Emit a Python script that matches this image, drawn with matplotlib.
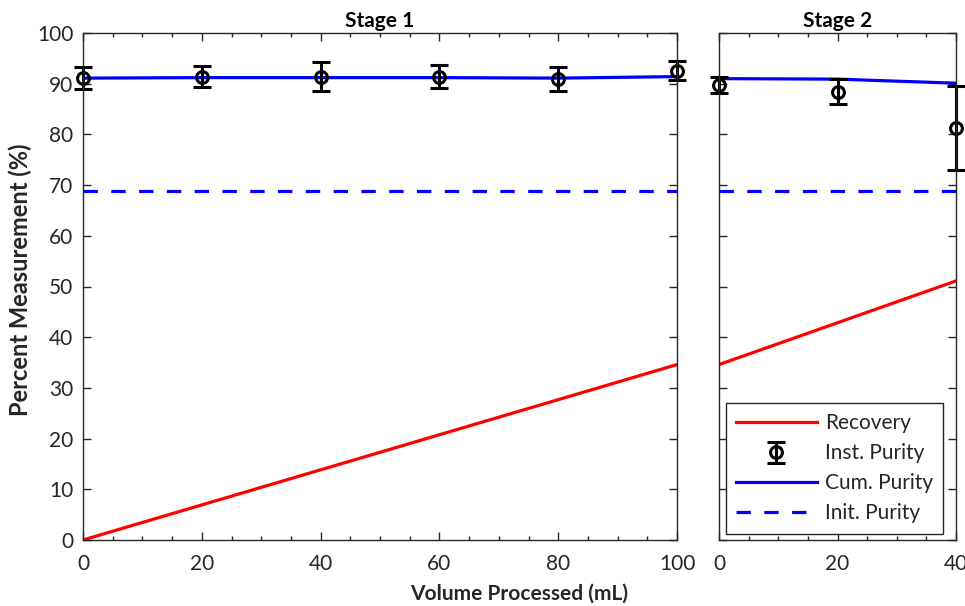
import matplotlib
matplotlib.use("Agg")
import matplotlib.pyplot as plt
from matplotlib.ticker import MultipleLocator

plt.rcParams['font.family'] = ['Lato', 'DejaVu Sans']

# Stage 1 measurements
s1_vol = [0, 20, 40, 60, 80, 100]
s1_inst = [91.1, 91.4, 91.4, 91.4, 90.9, 92.6]
s1_inst_err = [2.1, 2.0, 2.8, 2.3, 2.3, 1.9]
s1_cum = [91.1, 91.2, 91.2, 91.2, 91.1, 91.4]
s1_rec_vol = [0, 100]
s1_rec = [0.0, 34.6]

# Stage 2 measurements
s2_vol = [0, 20, 40]
s2_inst = [89.7, 88.4, 81.2]
s2_inst_err = [1.6, 2.5, 8.3]
s2_cum = [91.0, 90.9, 90.1]
s2_rec_vol = [0, 40]
s2_rec = [34.6, 51.1]

init_purity = 68.9

AX_COL = '#262626'
FS_TICK = 15

fig = plt.figure(figsize=(9.65, 6.06), dpi=100)
ax1 = fig.add_axes([83/965, 1-540/606, (677-83)/965, (540-33)/606])
ax2 = fig.add_axes([719/965, 1-540/606, (956-719)/965, (540-33)/606])


def draw_stage(ax, vol, inst, err, cum, rvol, rec, xmax):
    h_rec, = ax.plot(rvol, rec, color='red', lw=2.3, label='Recovery')
    h_cum, = ax.plot(vol, cum, color='blue', lw=2.3, label='Cum. Purity')
    h_init, = ax.plot([0, xmax], [init_purity, init_purity], color='blue', lw=2.3,
                      linestyle=(0, (4.5, 4.2)), label='Init. Purity')
    h_inst = ax.errorbar(vol, inst, yerr=err, fmt='o', color='black', mfc='none',
                         ms=8.5, mew=2.2, elinewidth=2.2, capsize=6.5, capthick=2.2,
                         label='Inst. Purity')
    # markers and error bars at the axis edge are not clipped
    for art in h_inst.lines[0:1] + tuple(h_inst.lines[1]) + tuple(h_inst.lines[2]):
        art.set_clip_on(False)
    ax.set_xlim(0, xmax)
    ax.set_ylim(0, 100)
    ax.xaxis.set_major_locator(MultipleLocator(20))
    ax.xaxis.set_minor_locator(MultipleLocator(5))
    ax.yaxis.set_major_locator(MultipleLocator(10))
    ax.tick_params(which='both', direction='in', top=True, right=True,
                   color=AX_COL, labelcolor=AX_COL, labelsize=FS_TICK, width=1)
    ax.tick_params(which='major', length=6)
    ax.tick_params(axis='x', which='major', pad=10)
    ax.tick_params(axis='y', which='major', pad=7)
    ax.tick_params(which='minor', length=3)
    for sp in ax.spines.values():
        sp.set_color(AX_COL)
        sp.set_linewidth(1)
    return h_rec, h_inst, h_cum, h_init


draw_stage(ax1, s1_vol, s1_inst, s1_inst_err, s1_cum, s1_rec_vol, s1_rec, 100)
handles = draw_stage(ax2, s2_vol, s2_inst, s2_inst_err, s2_cum, s2_rec_vol, s2_rec, 40)
ax2.tick_params(labelleft=False)

ax1.set_title('Stage 1', fontsize=FS_TICK, fontweight='bold', pad=4)
ax2.set_title('Stage 2', fontsize=FS_TICK, fontweight='bold', pad=4)
fig.text(20/965, 1-280/606, 'Percent Measurement (%)', rotation=90, ha='center',
         va='center', fontsize=17, fontweight='bold', color=AX_COL)
fig.text(519/965, 1-594/606, 'Volume Processed (mL)', ha='center', va='center',
         fontsize=15, fontweight='bold', color=AX_COL)

leg = ax2.legend(handles, [h.get_label() for h in handles],
                 loc='lower right', bbox_to_anchor=(0.947, 0.012),
                 fontsize=FS_TICK, frameon=True, fancybox=False, framealpha=1,
                 edgecolor=AX_COL, handlelength=3.85, handletextpad=0.4,
                 labelspacing=0.48, borderpad=0.5, borderaxespad=0)
leg.get_frame().set_linewidth(1)
for t in leg.get_texts():
    t.set_color(AX_COL)

fig.savefig('out.png', dpi=100)
